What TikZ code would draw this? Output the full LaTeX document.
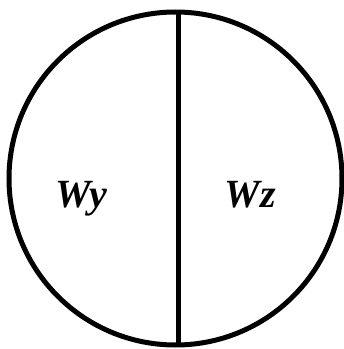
\documentclass[tikz,border=0pt]{standalone}
\usepackage{fontspec}
\setmainfont{Liberation Serif}
\begin{document}
\begin{tikzpicture}[x=1pt,y=1pt,
  ring/.style={draw=black,line width=5pt,circle,minimum size=333pt,inner sep=0pt},
  divider/.style={draw=black,line width=5pt},
  lbl/.style={font=\fontsize{40}{44}\selectfont\bfseries\itshape,inner sep=0pt,anchor=base}]
\useasboundingbox (0,0) rectangle (344,349);
\node[ring] (c) at (175.5,170.5) {};
\coordinate (top) at (178.5,336.9);
\coordinate (bot) at (178.5,4.1);
\draw[divider] (top) -- (bot);
\node[lbl] (wy) at (81.5,142) {Wy};
\node[lbl] (wz) at (250.5,142) {Wz};
\end{tikzpicture}
\end{document}
